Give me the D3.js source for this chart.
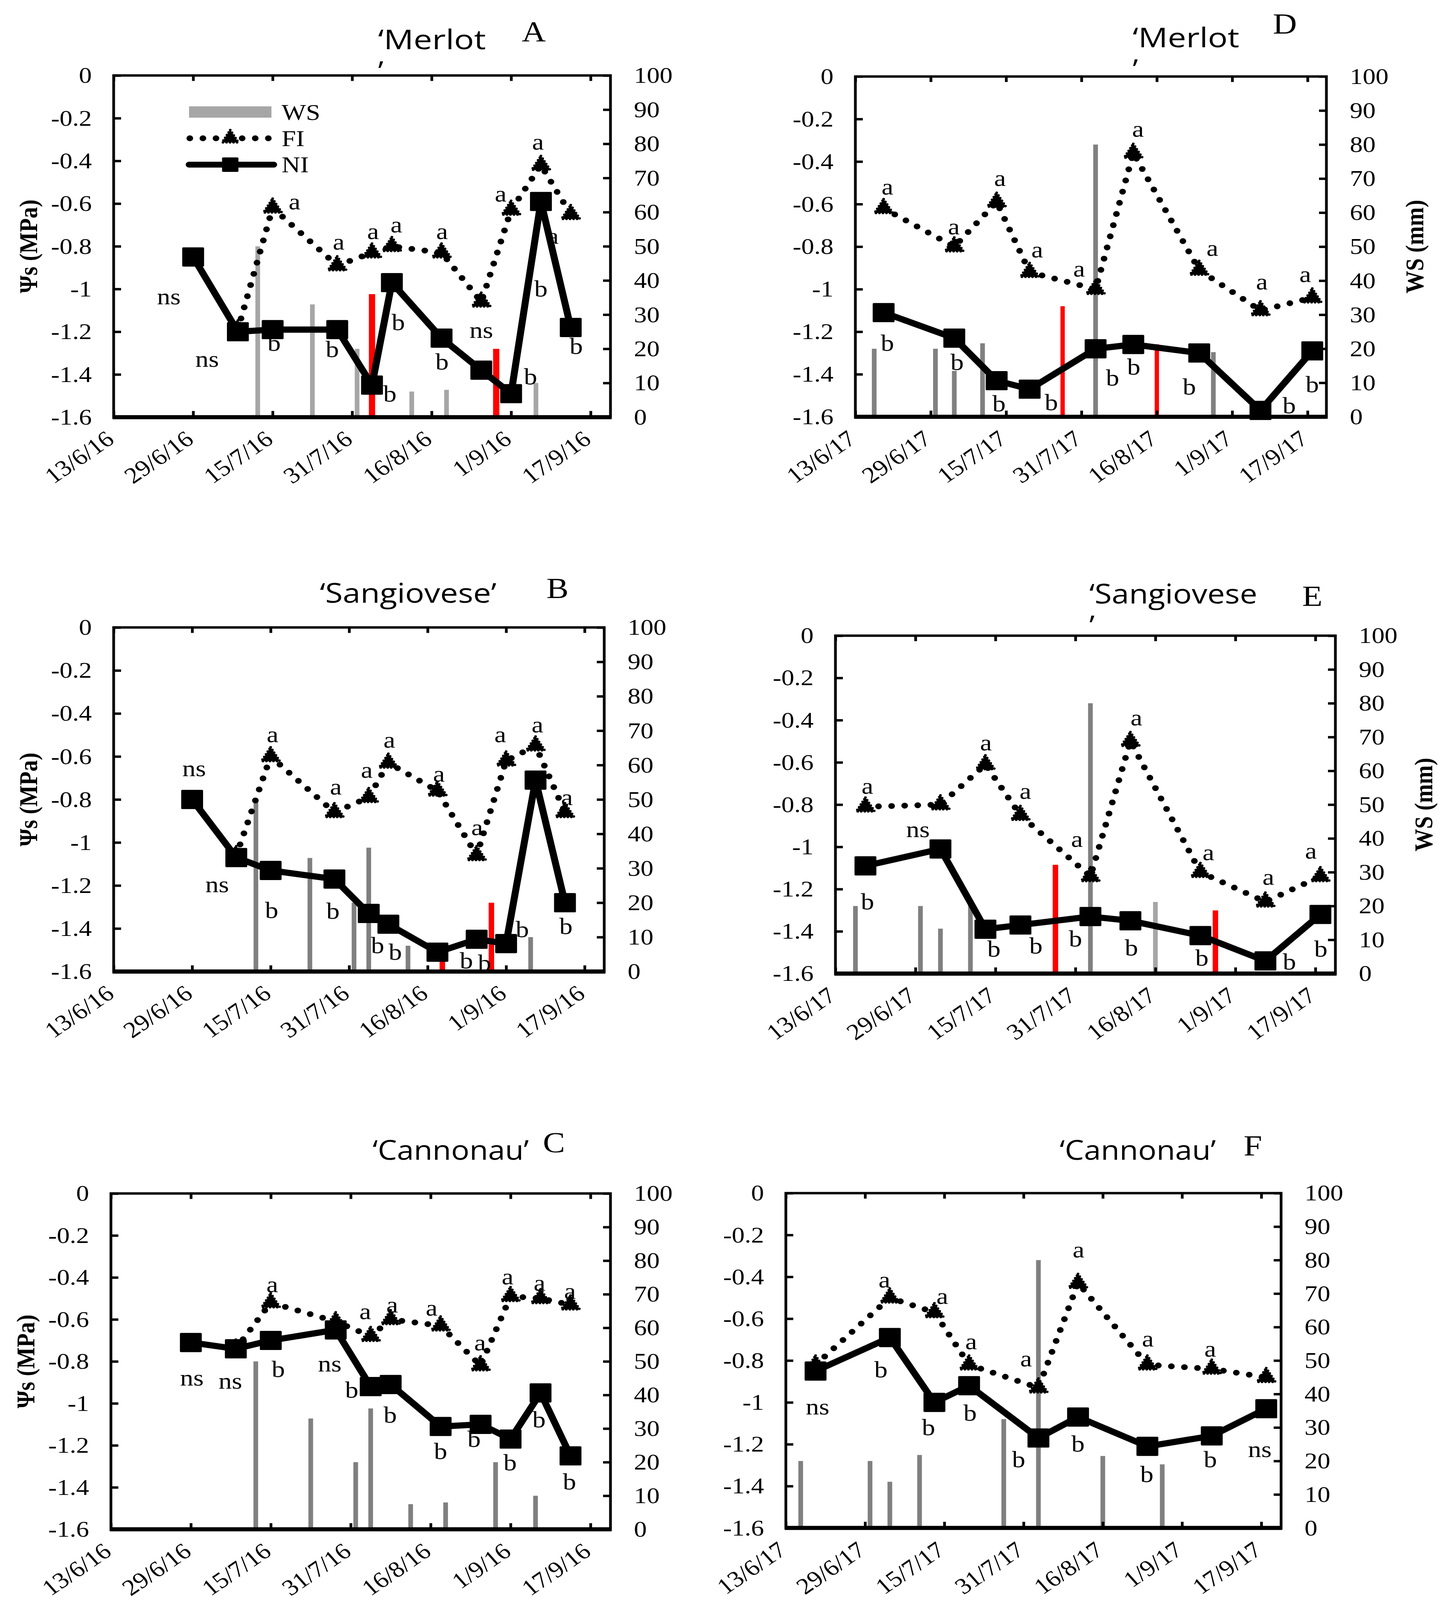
<!DOCTYPE html>
<html><head><meta charset="utf-8">
<script src="https://cdn.jsdelivr.net/npm/d3@7"></script>
<style>html,body{margin:0;padding:0;width:100%;height:100%;overflow:hidden;background:#fff}svg{display:block}</style>
</head><body>
<svg id="chart" width="100%" height="100%" viewBox="0 0 3715 4664" preserveAspectRatio="none"></svg>
<script>
// ---------------- DATA ----------------
const tickLabels2016 = ["13/6/16","29/6/16","15/7/16","31/7/16","16/8/16","1/9/16","17/9/16"];
const tickLabels2017 = ["13/6/17","29/6/17","15/7/17","31/7/17","16/8/17","1/9/17","17/9/17"];
const psiTicks = [0,-0.2,-0.4,-0.6,-0.8,-1,-1.2,-1.4,-1.6];
const wsTicks = [0,10,20,30,40,50,60,70,80,90,100];

const dates2016 = ["29/6/2016","8/7/2016","15/7/2016","28/7/2016","4/8/2016","8/8/2016","18/8/2016","26/8/2016","1/9/2016","7/9/2016","13/9/2016"];
const fiDates2016 = ["8/7/2016","15/7/2016","28/7/2016","4/8/2016","8/8/2016","18/8/2016","26/8/2016","1/9/2016","7/9/2016","13/9/2016"];
const dates2017 = ["19/6/2017","4/7/2017","13/7/2017","20/7/2017","3/8/2017","11/8/2017","25/8/2017","7/9/2017","18/9/2017"];

// Merlot 2016 (A)
const niA = [-0.85,-1.20,-1.19,-1.19,-1.45,-0.97,-1.23,-1.38,-1.49,-0.59,-1.18];
const fiA = [-1.19,-0.62,-0.89,-0.83,-0.80,-0.83,-1.06,-0.63,-0.42,-0.65];
// Sangiovese 2016 (B)
const niB = [-0.80,-1.07,-1.13,-1.17,-1.33,-1.38,-1.51,-1.45,-1.47,-0.71,-1.28];
const fiB = [-1.06,-0.60,-0.86,-0.79,-0.63,-0.76,-1.06,-0.62,-0.55,-0.86];
// Cannonau 2016 (C)
const niC = [-0.71,-0.74,-0.70,-0.65,-0.92,-0.91,-1.11,-1.10,-1.17,-0.95,-1.25];
const fiC = [-0.74,-0.52,-0.61,-0.68,-0.60,-0.63,-0.82,-0.49,-0.50,-0.53];
// Merlot 2017 (D)
const niD = [-1.11,-1.23,-1.43,-1.47,-1.28,-1.26,-1.30,-1.57,-1.29];
const fiD = [-0.62,-0.80,-0.59,-0.92,-1.00,-0.36,-0.91,-1.10,-1.04];
// Sangiovese 2017 (E)
const niE = [-1.09,-1.01,-1.39,-1.37,-1.33,-1.35,-1.42,-1.54,-1.32];
const fiE = [-0.81,-0.80,-0.61,-0.85,-1.14,-0.50,-1.12,-1.26,-1.14];
// Cannonau 2017 (F)
const niF = [-0.85,-0.69,-1.00,-0.92,-1.17,-1.07,-1.21,-1.16,-1.03];
const fiF = [-0.82,-0.50,-0.57,-0.82,-0.93,-0.43,-0.82,-0.84,-0.88];

// Water supply bars (mm); type: g = grey, l = light grey, r = red
const wsDates2016 = ["12/7/2016","23/7/2016","1/8/2016","4/8/2016","12/8/2016","19/8/2016","29/8/2016","6/9/2016"];
const wsA = [50,33,20,36,7.5,8,20,10];
const wsTypeA = ["l","l","l","r","l","l","r","l"];
const wsB = [50,33,20,36,7.5,8,20,10];
const wsTypeB = ["g","g","g","g","g","r","r","g"];
const wsC = [50,33,20,36,7.5,8,20,10];
const wsTypeC = ["g","g","g","g","g","g","g","g"];
const wsDates2017 = ["17/6/2017","30/6/2017","4/7/2017","10/7/2017","27/7/2017","3/8/2017","16/8/2017","28/8/2017"];
const wsDates2017F = ["16/6/2017","30/6/2017","4/7/2017","10/7/2017","27/7/2017","3/8/2017","16/8/2017","28/8/2017"];
const wsD = [20,20,13.5,21.6,32.5,80,21.3,19];
const wsTypeD = ["g","g","g","g","r","g","r","g"];
const wsE = [20,20,13.3,21,32.2,80,21.2,18.7];
const wsTypeE = ["g","g","g","g","r","g","l","r"];
const wsF = [20,20,13.8,21.8,32.5,80,21.5,19];
const wsTypeF = ["g","g","g","g","g","g","g","g"];

// Significance letters: [text, days after axis start, Ψs value]
const annoA = [["ns",11.1,-1.035],["ns",18.8,-1.327],["a",36.4,-0.59],["b",32.3,-1.252],["a",45.3,-0.778],["b",44.0,-1.282],["a",52.2,-0.729],["a",56.9,-0.699],["b",55.6,-1.491],["b",57.3,-1.155],["a",66.1,-0.729],["b",66.1,-1.341],["ns",74,-1.192],["a",77.9,-0.554],["b",83.9,-1.409],["a",85.4,-0.311],["b",86,-0.998],["a",88.4,-0.751],["b",93.1,-1.267]];
const annoB = [["ns",16.4,-0.655],["ns",21.1,-1.194],["a",32.4,-0.497],["b",32.2,-1.315],["a",45.3,-0.74],["b",44.7,-1.318],["a",51.6,-0.663],["b",53.8,-1.478],["a",56.2,-0.522],["b",57.4,-1.508],["a",66.3,-0.681],["a",74.1,-0.93],["b",71.9,-1.548],["b",75.6,-1.56],["a",78.8,-0.497],["b",83.3,-1.404],["a",86.4,-0.452],["a",92.4,-0.789],["b",92.2,-1.389]];
const annoC = [["ns",16.2,-0.877],["ns",23.9,-0.892],["a",32.3,-0.433],["b",33.5,-0.837],["ns",43.8,-0.81],["a",50.9,-0.561],["b",48.2,-0.936],["a",56.3,-0.529],["b",55.9,-1.055],["a",64.2,-0.544],["b",66.0,-1.228],["a",73.9,-0.71],["b",72.7,-1.169],["a",79.4,-0.396],["b",79.9,-1.281],["a",85.8,-0.425],["b",85.7,-1.077],["a",91.9,-0.465],["b",91.8,-1.373]];
const annoD = [["a",6.8,-0.5175],["b",6.8,-1.252],["a",20.9,-0.705],["b",21.6,-1.342],["a",30.7,-0.477],["b",30.5,-1.537],["a",38.6,-0.814],["b",41.6,-1.532],["a",47.5,-0.904],["b",54.6,-1.417],["a",60.0,-0.247],["b",59.1,-1.365],["b",70.9,-1.459],["a",75.8,-0.807],["a",86.3,-0.964],["b",92.1,-1.546],["a",95.5,-0.93],["b",97,-1.447]];
const annoE = [["a",6.4,-0.712],["b",6.4,-1.259],["ns",16.5,-0.916],["a",30.1,-0.506],["b",31.7,-1.482],["a",38.0,-0.735],["b",40.1,-1.467],["a",48.3,-0.962],["b",48.0,-1.434],["a",60.2,-0.388],["b",59.2,-1.478],["a",74.6,-1.025],["b",73.3,-1.525],["a",86.6,-1.143],["b",90.8,-1.543],["a",95.1,-1.019],["b",97.1,-1.482]];
const annoF = [["ns",6.4,-1.02],["a",19.9,-0.413],["b",19.2,-0.842],["a",31.6,-0.491],["b",28.8,-1.12],["a",37.4,-0.708],["b",37.2,-1.05],["a",48.5,-0.79],["b",47,-1.273],["a",59.1,-0.269],["b",59,-1.197],["a",73.1,-0.696],["b",72.9,-1.343],["a",85.7,-0.744],["b",85.7,-1.273],["ns",95.7,-1.224]];

const legendLabels = ["WS","FI","NI"];

// ---------------- LAYOUT ----------------
const panels = [
  {id:"A", start:"13/6/2016", ticks:tickLabels2016, dates:dates2016, fiDates:fiDates2016, ni:niA, fi:fiA, wsDates:wsDates2016, ws:wsA, wsType:wsTypeA, anno:annoA,
   box:{L:291,R:1563,T:220,B:1216}, title:["\u2018Merlot","\u2019"], titleW:276, titlePos:[968,144], letterPos:[1336,121], leftTitle:true, rightTitle:false, legend:true, redW:16},
  {id:"D", start:"13/6/2017", ticks:tickLabels2017, dates:dates2017, fiDates:dates2017, ni:niD, fi:fiD, wsDates:wsDates2017, ws:wsD, wsType:wsTypeD, anno:annoD,
   box:{L:2190,R:3396,T:223,B:1215}, title:["\u2018Merlot","\u2019"], titleW:273, titlePos:[2900,138], letterPos:[3259,98], leftTitle:false, rightTitle:true, legend:false, redW:11},
  {id:"B", start:"13/6/2016", ticks:tickLabels2016, dates:dates2016, fiDates:fiDates2016, ni:niB, fi:fiB, wsDates:wsDates2016, ws:wsB, wsType:wsTypeB, anno:annoB,
   box:{L:291,R:1547,T:1829,B:2832}, title:["\u2018Sangiovese\u2019"], titleW:452, titlePos:[819,1757], letterPos:[1399,1743], leftTitle:true, rightTitle:false, legend:false, redW:14},
  {id:"E", start:"13/6/2017", ticks:tickLabels2017, dates:dates2017, fiDates:dates2017, ni:niE, fi:fiE, wsDates:wsDates2017, ws:wsE, wsType:wsTypeE, anno:annoE,
   box:{L:2139,R:3419,T:1853,B:2838}, title:["\u2018Sangiovese","\u2019"], titleW:430, titlePos:[2789,1759], letterPos:[3334,1766], leftTitle:false, rightTitle:true, legend:false, redW:14},
  {id:"C", start:"13/6/2016", ticks:tickLabels2016, dates:dates2016, fiDates:fiDates2016, ni:niC, fi:fiC, wsDates:wsDates2016, ws:wsC, wsType:wsTypeC, anno:annoC,
   box:{L:284,R:1563,T:3479,B:4458}, title:["\u2018Cannonau\u2019"], titleW:400, titlePos:[954,3381], letterPos:[1390,3359], leftTitle:true, rightTitle:false, legend:false, redW:14},
  {id:"F", start:"13/6/2017", ticks:tickLabels2017, dates:dates2017, fiDates:dates2017, ni:niF, fi:fiF, wsDates:wsDates2017F, ws:wsF, wsType:wsTypeF, anno:annoF,
   box:{L:2012,R:3280,T:3478,B:4454}, title:["\u2018Cannonau\u2019"], titleW:400, titlePos:[2713,3381], letterPos:[3184,3368], leftTitle:false, rightTitle:false, legend:false, redW:14}
];

const SERIF = "'Liberation Serif','Times New Roman',serif";
const SANS = "'Open Sans','Noto Sans',sans-serif";
const FS = 66;
const colors = {g:"#808080", l:"#A6A6A6", r:"#FF0000"};
const DAY = 864e5;
const parse = d3.utcParse("%d/%m/%Y");
const svg = d3.select("#chart");
svg.append("rect").attr("width",3715).attr("height",4664).attr("fill","#fff");

function drawFI(g, pts, sz){
  g.selectAll(null).data(pts).join("path")
    .attr("d", d3.symbol(d3.symbolTriangle, sz)())
    .attr("transform", d=>`translate(${d[0]},${d[1]})`)
    .attr("fill","#000").attr("stroke","#000").attr("stroke-width",7)
    .attr("stroke-dasharray","0 9").attr("stroke-linecap","round");
}

function drawPanel(p){
  const {L,R,T,B} = p.box;
  const start = parse(p.start);
  const end = new Date(+start + 100*DAY);
  const x = d3.scaleUtc().domain([start,end]).range([L,R]);
  const yL = d3.scaleLinear().domain([-1.6,0]).range([B,T]);
  const yR = d3.scaleLinear().domain([0,100]).range([B,T]);
  const g = svg.append("g").attr("id","panel"+p.id);

  // bars (WS, right axis)
  const bars = p.ws.map((v,i)=>({date:parse(p.wsDates[i]), v, t:p.wsType[i]}));
  g.append("g").selectAll("rect").data(bars).join("rect")
    .attr("x", d=>x(d.date) - (d.t==="r"?p.redW:12)/2)
    .attr("width", d=> d.t==="r"?p.redW:12)
    .attr("y", d=>yR(d.v))
    .attr("height", d=>yR(0)-yR(d.v))
    .attr("fill", d=>colors[d.t]);

  // significance letters
  g.append("g").selectAll("text").data(p.anno).join("text")
    .attr("x", d=>x(new Date(+start + d[1]*DAY)))
    .attr("y", d=>yL(d[2]))
    .attr("text-anchor","middle").attr("dominant-baseline","central")
    .attr("font-family",SERIF).attr("font-size",68).text(d=>d[0]);

  // FI dotted line with triangles
  const fiPts = p.fi.map((v,i)=>[x(parse(p.fiDates[i])), yL(v)]);
  g.append("path").attr("d", d3.line()(fiPts)).attr("fill","none")
    .attr("stroke","#000").attr("stroke-width",17).attr("stroke-linecap","round")
    .attr("stroke-dasharray","0 33.5");
  drawFI(g, fiPts, 950);

  // NI solid line with squares
  const niPts = p.ni.map((v,i)=>[x(parse(p.dates[i])), yL(v)]);
  g.append("path").attr("d", d3.line()(niPts)).attr("fill","none")
    .attr("stroke","#000").attr("stroke-width",18).attr("stroke-linejoin","round");
  g.append("g").selectAll("rect").data(niPts).join("rect")
    .attr("x", d=>d[0]-28).attr("y", d=>d[1]-28).attr("width",56).attr("height",56)
    .attr("rx",3).attr("fill","#000");

  // axes (ticks inside)
  const tickDates = d3.range(7).map(i=>new Date(+start + 16*i*DAY));
  const ax = g.append("g");
  const bottom = ax.append("g").attr("transform",`translate(0,${B})`)
    .call(d3.axisBottom(x).tickValues(tickDates).tickSizeInner(-18).tickSizeOuter(0).tickFormat(""));
  const top = ax.append("g").attr("transform",`translate(0,${T})`)
    .call(d3.axisTop(x).tickValues(tickDates).tickSizeInner(-16).tickSizeOuter(0).tickFormat(""));
  const left = ax.append("g").attr("transform",`translate(${L},0)`)
    .call(d3.axisLeft(yL).tickValues(psiTicks).tickSizeInner(-19).tickSizeOuter(0).tickPadding(56)
      .tickFormat(d=> d===0 ? "0" : String(+d.toFixed(1))));
  const right = ax.append("g").attr("transform",`translate(${R},0)`)
    .call(d3.axisRight(yR).tickValues(wsTicks).tickSizeInner(-19).tickSizeOuter(0).tickPadding(60));
  [bottom,top,left,right].forEach(a=>{
    a.select(".domain").remove();
    a.selectAll("line").attr("stroke","#000").attr("stroke-width",7);
    a.attr("font-size",FS).attr("font-family",SERIF);
    a.selectAll("text").attr("fill","#000");
  });
  // rotated date labels
  ax.append("g").selectAll("text").data(tickDates).join("text")
    .attr("transform",d=>`translate(${x(d)+5},${B+72}) rotate(-38)`)
    .attr("text-anchor","end").attr("font-size",FS).attr("font-family",SERIF)
    .text((d,i)=>p.ticks[i]);

  // plot frame
  g.append("rect").attr("x",L).attr("y",T).attr("width",R-L).attr("height",B-T)
    .attr("fill","none").attr("stroke","#000").attr("stroke-width",7);
  g.append("line").attr("x1",L-3).attr("x2",R+3).attr("y1",B).attr("y2",B)
    .attr("stroke","#000").attr("stroke-width",12);

  // axis titles
  if(p.leftTitle){
    g.append("text").attr("transform",`translate(${L-218},${(T+B)/2}) rotate(-90)`)
      .attr("text-anchor","middle").attr("dominant-baseline","central")
      .attr("font-family",SERIF).attr("font-weight","bold").attr("font-size",FS).text("\u03A8s (MPa)");
  }
  if(p.rightTitle){
    g.append("text").attr("transform",`translate(${R+226},${(T+B)/2}) rotate(-90)`)
      .attr("text-anchor","middle").attr("dominant-baseline","central")
      .attr("font-family",SERIF).attr("font-weight","bold").attr("font-size",FS).text("WS (mm)");
  }

  // cultivar title (second line holds the wrapped closing quote)
  g.append("text").attr("x",p.titlePos[0]).attr("y",p.titlePos[1])
    .attr("font-family",SANS).attr("font-size",80).attr("fill","#000")
    .attr("textLength",p.titleW).attr("lengthAdjust","spacingAndGlyphs").text(p.title[0]);
  if(p.title.length>1){
    g.append("text").attr("x",p.titlePos[0]).attr("y",p.titlePos[1]+92)
      .attr("font-family",SANS).attr("font-size",80).attr("fill","#000").text(p.title[1]);
  }
  g.append("text").attr("x",p.letterPos[0]).attr("y",p.letterPos[1])
    .attr("font-family",SERIF).attr("font-size",85).text(p.id);

  // legend
  if(p.legend){
    const lg = g.append("g");
    const lx0 = 484, lx1 = 695, tx = 721, ys = [327,403,480];
    lg.append("rect").attr("x",lx0).attr("y",ys[0]-17).attr("width",lx1-lx0).attr("height",33).attr("fill",colors.l);
    lg.append("path").attr("d", d3.line()([[lx0+2,ys[1]],[lx1-4,ys[1]]])).attr("stroke","#000")
      .attr("stroke-width",17).attr("stroke-linecap","round").attr("stroke-dasharray","0 33.5");
    drawFI(lg, [[(lx0+lx1)/2, ys[1]]], 750);
    lg.append("path").attr("d", d3.line()([[lx0,ys[2]],[lx1+6,ys[2]]])).attr("stroke","#000")
      .attr("stroke-width",17).attr("stroke-linecap","round");
    lg.append("rect").attr("x",(lx0+lx1)/2-21).attr("y",ys[2]-21).attr("width",42).attr("height",42).attr("rx",3).attr("fill","#000");
    lg.selectAll("text").data(legendLabels).join("text")
      .attr("x",tx).attr("y",(d,i)=>ys[i]).attr("dominant-baseline","central")
      .attr("font-family",SERIF).attr("font-size",FS).text(d=>d);
  }
}
panels.forEach(drawPanel);
</script>
</body></html>
